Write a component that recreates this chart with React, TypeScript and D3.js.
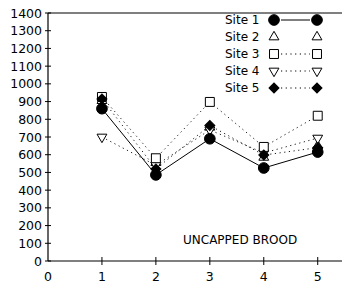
import { useRef, useEffect } from "react";
import * as d3 from "d3";

const days = [1, 2, 3, 4, 5];
const site1 = [860, 486, 690, 525, 615];
const site2 = [905, 555, 755, 585, 650];
const site3 = [926, 580, 898, 644, 820];
const site4 = [700, 540, 740, 610, 694];
const site5 = [915, 520, 765, 598, 640];
const siteNames = ["Site 1", "Site 2", "Site 3", "Site 4", "Site 5"];
const yTicks = [0, 100, 200, 300, 400, 500, 600, 700, 800, 900, 1000, 1100, 1200, 1300, 1400];
const xTicks = [0, 1, 2, 3, 4, 5];

const FONT = "'DejaVu Sans', sans-serif";

function drawChart(svgRef: any) {
    const width = 342, height = 286;
    const svg = d3.select(svgRef.current);
    svg.selectAll("*").remove();
    svg.attr("width", width).attr("height", height).style("display", "block");

    const x = d3.scaleLinear().domain([0, 5.45]).range([48, 342]);
    const y = d3.scaleLinear().domain([0, 1400]).range([261, 13]);

    const series = [
        { name: siteNames[0], values: site1, symbol: d3.symbolCircle, size: 90, fill: "#000", line: "solid", rot: 0 },
        { name: siteNames[1], values: site2, symbol: d3.symbolTriangle, size: 42, fill: "#fff", line: "none", rot: 0 },
        { name: siteNames[2], values: site3, symbol: d3.symbolSquare, size: 80, fill: "#fff", line: "dot", rot: 0 },
        { name: siteNames[3], values: site4, symbol: d3.symbolTriangle, size: 42, fill: "#fff", line: "dot", rot: 180 },
        { name: siteNames[4], values: site5, symbol: d3.symbolSquare, size: 50, fill: "#000", line: "dot", rot: 45 },
    ];
    // open markers underneath, filled ones on top
    const drawOrder = [1, 3, 2, 4, 0];

    const g = svg.append("g");

    // frame: top line + axes
    g.append("line").attr("x1", x(0)).attr("x2", width).attr("y1", y(1400)).attr("y2", y(1400))
        .attr("stroke", "#000").attr("stroke-width", 1);
    g.append("line").attr("x1", x(0)).attr("x2", width).attr("y1", y(0)).attr("y2", y(0))
        .attr("stroke", "#000").attr("stroke-width", 1.2);
    g.append("line").attr("x1", x(0)).attr("x2", x(0)).attr("y1", y(0)).attr("y2", y(1400))
        .attr("stroke", "#000").attr("stroke-width", 1.2);

    // y ticks
    yTicks.forEach(t => {
        g.append("line").attr("x1", x(0) - 3).attr("x2", x(0) + 3).attr("y1", y(t)).attr("y2", y(t))
            .attr("stroke", "#000");
        g.append("text").attr("x", 42).attr("y", y(t)).attr("dy", "0.36em")
            .attr("text-anchor", "end").attr("font-family", FONT).attr("font-size", 12.5)
            .text(t);
    });
    // x ticks
    xTicks.forEach(t => {
        if (t > 0) {
            g.append("line").attr("x1", x(t)).attr("x2", x(t)).attr("y1", y(0) - 4).attr("y2", y(0) + 4)
                .attr("stroke", "#000");
        }
        g.append("text").attr("x", x(t)).attr("y", 281)
            .attr("text-anchor", "middle").attr("font-family", FONT).attr("font-size", 12.5)
            .text(t);
    });

    const line = d3.line<number>().x((d, i) => x(days[i])).y(d => y(d));

    const dash = (s: any) => s.line === "dot" ? "1.2,3.5" : null;

    series.forEach(s => {
        if (s.line === "none") return;
        g.append("path").attr("d", line(s.values)).attr("fill", "none")
            .attr("stroke", "#000").attr("stroke-width", s.line === "dot" ? 0.9 : 1)
            .attr("stroke-dasharray", dash(s));
    });

    const sym = (s: any) => d3.symbol().type(s.symbol).size(s.size)();

    drawOrder.forEach(k => {
        const s: any = series[k];
        s.values.forEach((v: number, i: number) => {
            g.append("path").attr("d", sym(s))
                .attr("transform", `translate(${x(days[i])},${y(v)}) rotate(${s.rot})`)
                .attr("fill", s.fill).attr("stroke", "#000").attr("stroke-width", 1);
        });
    });

    // legend
    const lx0 = 274, lx1 = 317;
    series.forEach((s: any, i) => {
        const ly = 20 + i * 17;
        g.append("text").attr("x", 225).attr("y", ly).attr("dy", "0.36em")
            .attr("font-family", FONT).attr("font-size", 12).text(s.name);
        if (s.line !== "none") {
            g.append("line").attr("x1", lx0 + 7).attr("x2", lx1 - 7).attr("y1", ly).attr("y2", ly)
                .attr("stroke", "#000").attr("stroke-dasharray", dash(s));
        }
        [lx0, lx1].forEach(px => {
            g.append("path").attr("d", sym(s))
                .attr("transform", `translate(${px},${ly}) rotate(${s.rot})`)
                .attr("fill", s.fill).attr("stroke", "#000").attr("stroke-width", 1);
        });
    });

    g.append("text").attr("x", 183).attr("y", 244).attr("font-family", FONT)
        .attr("font-size", 12).text("UNCAPPED BROOD");
}

export default function App() {
    const svg = useRef<SVGSVGElement>(null);
    useEffect(() => {
        drawChart(svg);
    }, [svg]);

    return <svg ref={svg} style={{ position: "absolute", left: 0, top: 0 }} />;
}
